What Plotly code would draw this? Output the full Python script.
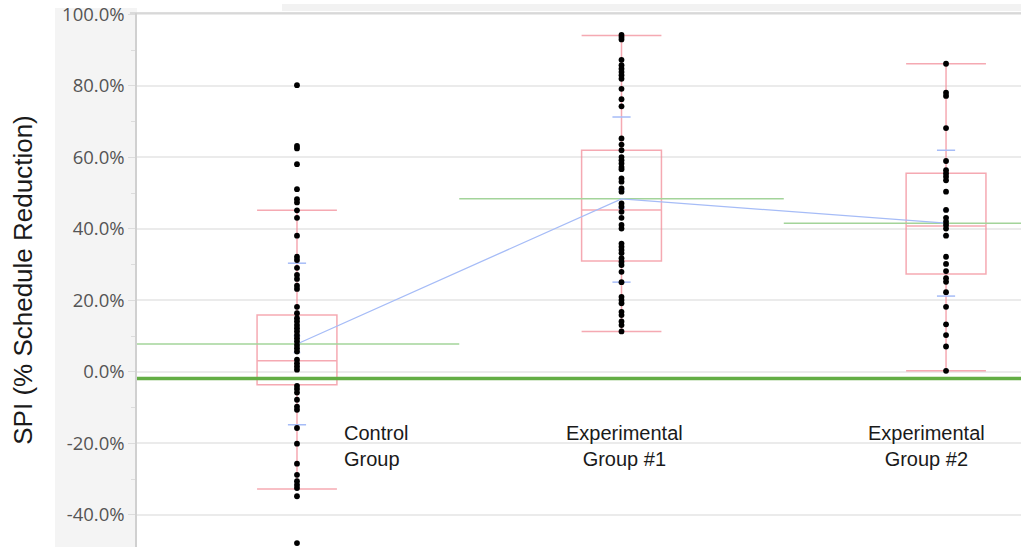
import plotly.graph_objects as go

# ---------------- data (values in %) ----------------
groups = ["Control<br>Group", "Experimental<br>Group #1", "Experimental<br>Group #2"]

control_pts = [80.2, 63.2, 62.5, 58.1, 51.1, 48.3, 47.4, 45.2, 43.1, 38.1, 32.2, 31.3,
               29.1, 27.1, 26.0, 24.1, 23.2, 18.2, 16.4, 15.0, 14.1, 13.1, 12.2, 11.3,
               10.3, 9.4, 8.5, 7.5, 6.6, 5.7, 3.4, 2.4, 1.5, 0.6, -3.9, -4.8, -5.8,
               -7.8, -9.7, -10.6, -15.7, -20.1, -25.7, -28.8, -30.6, -31.6, -32.5,
               -34.8, -47.9]
exp1_pts = [94.3, 93.7, 93.0, 87.3, 85.8, 84.8, 83.9, 83.0, 82.0, 79.2, 76.3, 74.3,
            65.3, 63.6, 62.0, 60.1, 59.2, 58.3, 57.3, 56.7, 54.1, 53.2, 51.3, 50.4,
            47.1, 46.2, 44.8, 43.1, 41.1, 40.1, 35.9, 35.0, 34.1, 33.2, 31.8, 30.8,
            29.9, 28.0, 25.1, 21.0, 20.1, 19.2, 16.8, 15.9, 14.1, 13.1, 11.3]
exp2_pts = [86.2, 78.1, 77.2, 68.2, 59.0, 56.4, 55.5, 54.6, 53.6, 50.4, 45.3, 43.1,
            42.0, 41.1, 40.1, 38.1, 32.2, 30.2, 28.2, 26.2, 25.2, 22.3, 18.2, 13.3,
            10.3, 7.1, 0.3]

q1 = [-3.6, 31.0, 27.4]
median = [3.1, 45.3, 40.8]
q3 = [15.9, 62.0, 55.6]
lower_fence = [-32.8, 11.3, 0.3]
upper_fence = [45.2, 94.1, 86.2]

means = [7.8, 48.4, 41.6]
sd_upper = [30.4, 71.3, 62.0]
sd_lower = [-14.8, 25.1, 21.2]
ci_upper = [10.1, 51.0, 45.3]
ci_lower = [5.4, 45.8, 38.1]

reference_value = -1.85

tick_vals = [-40, -20, 0, 20, 40, 60, 80, 100]
tick_text = ["-40.0%", "-20.0%", "0.0%", "20.0%", "40.0%", "60.0%", "80.0%", "100.0%"]

# ---------------- styles ----------------
PINK = "rgba(242,140,152,0.75)"
BLUE = "#a6bcf7"
LGREEN = "#a3d49a"
DGREEN = "#63ad44"

xs = list(range(len(groups)))
points = [control_pts, exp1_pts, exp2_pts]

fig = go.Figure()

# box plots (precomputed stats)
fig.add_trace(go.Box(
    x=xs, q1=q1, median=median, q3=q3,
    lowerfence=lower_fence, upperfence=upper_fence,
    width=0.246, whiskerwidth=1, boxpoints=False,
    line=dict(color=PINK, width=1.5), fillcolor="rgba(0,0,0,0)",
    hoverinfo="skip", showlegend=False,
))

# group mean lines (light green)
gx, gy = [], []
for i, m in zip(xs, means):
    gx += [i - 0.5, i + 0.5, None]
    gy += [m, m, None]
fig.add_trace(go.Scatter(x=gx, y=gy, mode="lines",
                         line=dict(color=LGREEN, width=1.5),
                         showlegend=False, hoverinfo="skip"))

# SD ticks and CI ticks (blue)
bx, by = [], []
for i, u, l in zip(xs, sd_upper, sd_lower):
    for v in (u, l):
        bx += [i - 0.028, i + 0.028, None]
        by += [v, v, None]
for i, u, l in zip(xs, ci_upper, ci_lower):
    for v in (u, l):
        bx += [i - 0.01, i + 0.01, None]
        by += [v, v, None]
fig.add_trace(go.Scatter(x=bx, y=by, mode="lines",
                         line=dict(color=BLUE, width=1.5),
                         showlegend=False, hoverinfo="skip"))

# line connecting means
fig.add_trace(go.Scatter(x=xs, y=means, mode="lines",
                         line=dict(color=BLUE, width=1.3),
                         showlegend=False, hoverinfo="skip"))

# data points
for i, pts in zip(xs, points):
    fig.add_trace(go.Scatter(x=[i] * len(pts), y=pts, mode="markers",
                             marker=dict(color="black", size=5.8, line=dict(width=0)),
                             showlegend=False))

# thick reference line
fig.add_shape(type="line", xref="paper", x0=0, x1=1, yref="y",
              y0=reference_value, y1=reference_value,
              line=dict(color=DGREEN, width=3.5))

# gray panel behind tick labels and top decorations
fig.add_shape(type="rect", xref="paper", yref="paper", x0=-0.0928, x1=0,
              y0=0, y1=1.0094, fillcolor="#f4f4f4", line=dict(width=0), layer="below")
fig.add_shape(type="rect", xref="paper", yref="paper", x0=0.164, x1=1,
              y0=1.0037, y1=1.0169, fillcolor="#f2f2f2", line=dict(width=0), layer="below")
fig.add_shape(type="line", xref="paper", yref="paper", x0=-0.008, x1=1,
              y0=1, y1=1, line=dict(color="#d2d2d2", width=1.5))

# group labels
label_offsets = [0.138, 0.01, -0.06]
label_anchor = ["left", "center", "center"]
for i, g, off, anc in zip(xs, groups, label_offsets, label_anchor):
    fig.add_annotation(x=i + off, y=-20.8, xref="x", yref="y", text=g,
                       showarrow=False, xanchor=anc, yanchor="middle",
                       align="left" if anc == "left" else "center",
                       font=dict(family="Liberation Sans, Arial", size=20, color="#1a1a1a"))

fig.update_layout(
    width=1021, height=547,
    margin=dict(l=137, r=0, t=13, b=0),
    paper_bgcolor="white", plot_bgcolor="white",
    xaxis=dict(range=[-0.493, 2.231], showticklabels=False, showgrid=False,
               zeroline=False, showline=False, ticks=""),
    yaxis=dict(range=[-49.0, 100.4], tickvals=tick_vals, ticktext=tick_text,
               showgrid=True, gridcolor="#ebebeb", gridwidth=1.5,
               zeroline=False, showline=True, linecolor="#d0d0d0", linewidth=1.5,
               ticks="outside", ticklen=7, tickcolor="#dcdcdc", tickwidth=1,
               minor=dict(dtick=10, ticks="outside", ticklen=4, tickcolor="#dcdcdc",
                          showgrid=False),
               tickfont=dict(family="Open Sans", size=18.5, color="#555555"),
               title=dict(text="SPI (% Schedule Reduction)", standoff=22,
                          font=dict(family="Liberation Sans, Arial", size=26, color="#1a1a1a")),
               automargin=False),
    showlegend=False,
)

fig.write_html(
    "out.html",
    config={"responsive": False, "displayModeBar": False},
    post_script="document.body.style.margin='0';document.body.style.overflow='hidden';",
)
